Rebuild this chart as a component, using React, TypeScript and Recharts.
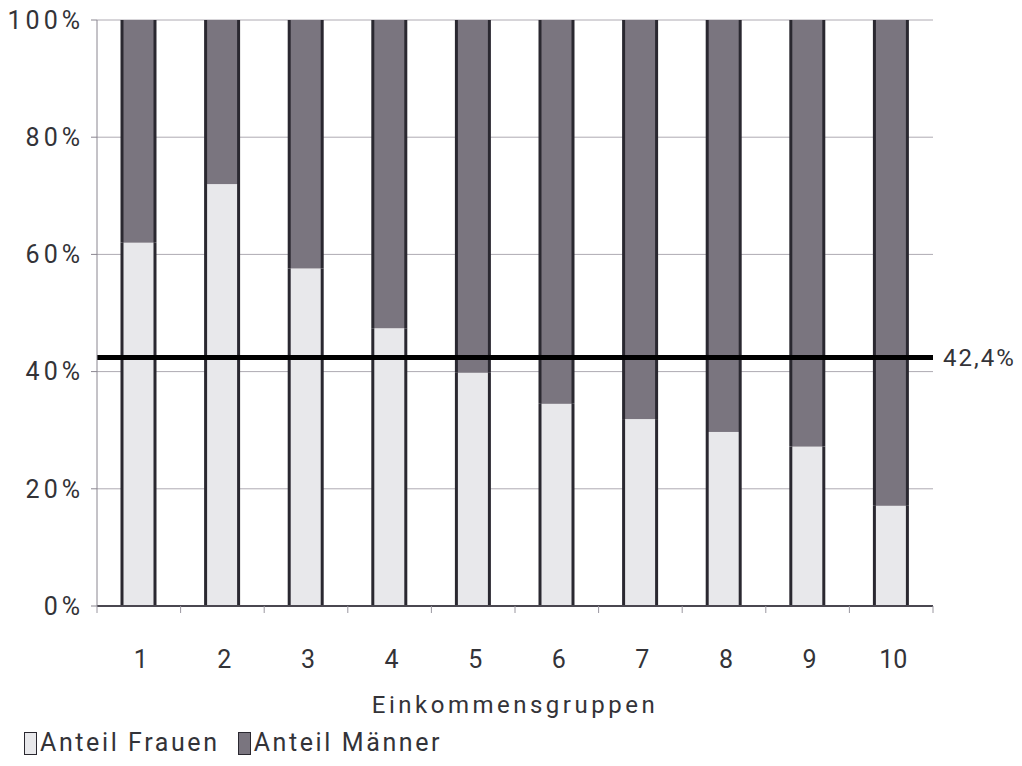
import { BarChart, Bar, XAxis, YAxis, CartesianGrid, ReferenceLine, Label } from 'recharts';

const gruppen = ['1', '2', '3', '4', '5', '6', '7', '8', '9', '10'];
const anteilFrauen = [62.0, 72.0, 57.6, 47.4, 39.8, 34.5, 31.9, 29.7, 27.2, 17.1];
const anteilMaenner = [38.0, 28.0, 42.4, 52.6, 60.2, 65.5, 68.1, 70.3, 72.8, 82.9];
const yTicks = [0, 20, 40, 60, 80, 100];
const durchschnitt = 42.4;

const data = gruppen.map((g, i) => ({
  gruppe: g,
  frauen: anteilFrauen[i],
  maenner: anteilMaenner[i],
}));

const FONT = 'Roboto, "Liberation Sans", sans-serif';
const TEXT = '#333338';
const EDGE = '#2a2830';
const HELL = '#e8e8eb';
const DUNKEL = '#7a757f';
const ACHSE = '#8a8690';

const W = 1022;
const H = 766;
const LINKS = 97;
const RECHTS = 89;
const BAND = (W - LINKS - RECHTS) / gruppen.length;

// bar with dark side edges only (like the scanned original)
function SaeuleShape(props: any) {
  const { x, y, width, height, fill } = props;
  if (!height || height <= 0) return null;
  return (
    <g>
      <rect x={x} y={y} width={width} height={height} fill={fill} />
      <line x1={x} y1={y} x2={x} y2={y + height} stroke={EDGE} strokeWidth={3} />
      <line x1={x + width} y1={y} x2={x + width} y2={y + height} stroke={EDGE} strokeWidth={3} />
    </g>
  );
}

// category label plus tick marks on the group boundaries
function GruppenTick(props: any) {
  const { x, y, payload, index } = props;
  const links = x - BAND / 2;
  const rechts = x + BAND / 2;
  return (
    <g>
      <line x1={links} y1={y} x2={links} y2={y + 7} stroke="#9a97a0" />
      {index === gruppen.length - 1 && (
        <line x1={rechts} y1={y} x2={rechts} y2={y + 7} stroke="#9a97a0" />
      )}
      <text
        x={x + 2}
        y={y + 44}
        dy="0.71em"
        textAnchor="middle"
        fill={TEXT}
        fontSize={25}
        fontFamily={FONT}
      >
        {payload.value}
      </text>
    </g>
  );
}

function Legende() {
  const item = (color: string, text: string, abstand: number) => (
    <span style={{ display: 'inline-flex', alignItems: 'center', marginRight: abstand }}>
      <span
        style={{
          display: 'inline-block',
          width: 11,
          height: 21,
          background: color,
          border: `1px solid ${EDGE}`,
          marginRight: 3,
        }}
      />
      <span>{text}</span>
    </span>
  );
  return (
    <div
      style={{
        position: 'absolute',
        left: 24,
        top: 728,
        fontFamily: FONT,
        fontSize: 25,
        letterSpacing: 2.6,
        color: TEXT,
        whiteSpace: 'nowrap',
        lineHeight: '30px',
      }}
    >
      {item(HELL, 'Anteil Frauen', 18)}
      {item(DUNKEL, 'Anteil Männer', 0)}
    </div>
  );
}

export default function App() {
  return (
    <div style={{ position: 'absolute', left: 0, top: 0, width: W, height: H, background: '#fff' }}>
      <BarChart
        width={W}
        height={H}
        data={data}
        margin={{ top: 20, right: RECHTS, left: 0, bottom: 70 }}
        barSize={33}
      >
        <CartesianGrid vertical={false} stroke="#aeaab2" strokeWidth={1} />
        <XAxis
          dataKey="gruppe"
          height={90}
          axisLine={{ stroke: '#4a4750', strokeWidth: 2 }}
          tickLine={false}
          tickSize={0}
          tickMargin={0}
          tick={<GruppenTick />}
          interval={0}
        >
          <Label
            value="Einkommensgruppen"
            position="bottom"
            offset={0}
            style={{ fill: TEXT, fontSize: 24, fontFamily: FONT, letterSpacing: 3.5 }}
          />
        </XAxis>
        <YAxis
          width={LINKS}
          domain={[0, 100]}
          ticks={yTicks}
          tickFormatter={(v) => `${v}%`}
          axisLine={{ stroke: ACHSE }}
          tickLine={{ stroke: ACHSE }}
          tickSize={6}
          tickMargin={7}
          tick={{ fill: TEXT, fontSize: 25, fontFamily: FONT, letterSpacing: 4 }}
        />
        <YAxis
          yAxisId="r"
          orientation="right"
          width={0}
          domain={[0, 100]}
          tick={false}
          tickLine={false}
          axisLine={{ stroke: ACHSE }}
        />
        <Bar dataKey="frauen" stackId="a" fill={HELL} shape={SaeuleShape} isAnimationActive={false} />
        <Bar dataKey="maenner" stackId="a" fill={DUNKEL} shape={SaeuleShape} isAnimationActive={false} />
        <ReferenceLine y={durchschnitt} stroke="#000" strokeWidth={5}>
          <Label
            value="42,4%"
            position="right"
            offset={10}
            style={{ fill: TEXT, fontSize: 24, fontFamily: FONT, letterSpacing: 2 }}
          />
        </ReferenceLine>
      </BarChart>
      <Legende />
    </div>
  );
}
